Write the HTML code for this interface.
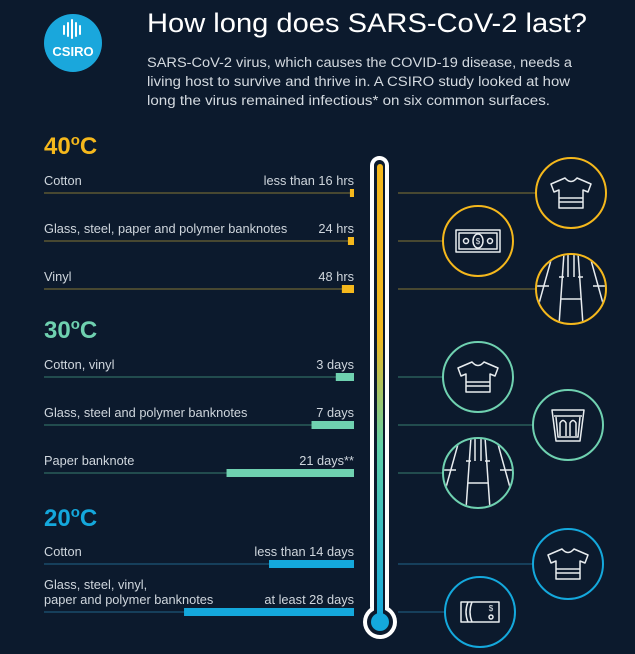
<!DOCTYPE html>
<html><head><meta charset="utf-8"><style>
html,body{margin:0;padding:0;background:#0c1a2d;}
svg{display:block;font-family:"Liberation Sans",sans-serif;}
</style></head><body>
<svg id="chart" width="635" height="654" viewBox="0 0 635 654" xmlns="http://www.w3.org/2000/svg">
<defs>
<linearGradient id="tg" x1="0" y1="0" x2="0" y2="1">
<stop offset="0" stop-color="#f5b81c"/><stop offset="0.38" stop-color="#f0b820"/><stop offset="0.62" stop-color="#5fd0a8"/><stop offset="1" stop-color="#14a8dc"/>
</linearGradient>
</defs>
<rect width="635" height="654" fill="#0c1a2d"/>
<g>
<circle cx="73" cy="43" r="29" fill="#1aa7dc"/>
<g stroke="#fff" stroke-width="2" stroke-linecap="round">
<line x1="64" y1="26" x2="64" y2="34"/><line x1="68" y1="23" x2="68" y2="36"/><line x1="72" y1="20" x2="72" y2="38"/><line x1="76" y1="23" x2="76" y2="36"/><line x1="80" y1="26" x2="80" y2="34"/>
</g>
<text x="73" y="56" font-size="13" font-weight="bold" fill="#fff" text-anchor="middle">CSIRO</text>
</g>
<text x="147" y="32" font-size="27" fill="#fff" textLength="440" lengthAdjust="spacingAndGlyphs">How long does SARS-CoV-2 last?</text>
<g font-size="14.2" fill="#d4dae0">
<text x="147" y="67" textLength="425" lengthAdjust="spacingAndGlyphs">SARS-CoV-2 virus, which causes the COVID-19 disease, needs a</text>
<text x="147" y="86" textLength="423" lengthAdjust="spacingAndGlyphs">living host to survive and thrive in. A CSIRO study looked at how</text>
<text x="147" y="105" textLength="403" lengthAdjust="spacingAndGlyphs">long the virus remained infectious* on six common surfaces.</text>
</g>
<text x="44" y="154" font-size="24" font-weight="bold" fill="#f5b81c">40<tspan font-size="15" dy="-9">o</tspan><tspan dy="9">C</tspan></text>
<text x="44" y="338" font-size="24" font-weight="bold" fill="#6fd1b0">30<tspan font-size="15" dy="-9">o</tspan><tspan dy="9">C</tspan></text>
<text x="44" y="526" font-size="24" font-weight="bold" fill="#14a8dc">20<tspan font-size="15" dy="-9">o</tspan><tspan dy="9">C</tspan></text>
<g id="rows"></g>
<g>
<rect x="370" y="156" width="19" height="460" rx="9.5" fill="#fff"/>
<circle cx="380" cy="622" r="17" fill="#fff"/>
<rect x="374" y="160" width="11" height="458" rx="5.5" fill="#0c1a2d"/>
<circle cx="380" cy="622" r="13" fill="#0c1a2d"/>
<rect x="377" y="164" width="6" height="455" rx="3" fill="url(#tg)"/>
<circle cx="380" cy="622" r="9" fill="#14a8dc"/>
</g>
<g id="icons"></g>
<script>
const labels=["Cotton","Glass, steel, paper and polymer banknotes","Vinyl","Cotton, vinyl","Glass, steel and polymer banknotes","Paper banknote","Cotton","Glass, steel, vinyl,|paper and polymer banknotes"];
const valueLabels=["less than 16 hrs","24 hrs","48 hrs","3 days","7 days","21 days**","less than 14 days","at least 28 days"];
const days=[0.67,1,2,3,7,21,14,28];
const groups=[0,0,0,1,1,1,2,2];
const rowY=[193,241,289,377,425,473,564,612];
const iconKind=["shirt","note","vinyl","shirt","glass","paper","shirt","note2"];
const iconX=[571,478,571,478,568,478,568,480];
const colors=["#f5b81c","#6fd1b0","#14a8dc"];
const lineColors=["#6b6334","#2f6a63","#1d5677"];
const NS="http://www.w3.org/2000/svg";
const x1=354, pxPerDay=6.07;
function xScale(d){return x1-d*pxPerDay;}
function mk(t,a,p){const e=document.createElementNS(NS,t);for(const k in a)e.setAttribute(k,a[k]);p.appendChild(e);return e;}
const rows=document.getElementById('rows');
const icons=document.getElementById('icons');
days.forEach((d,i)=>{
 const g=mk('g',{},rows);
 
 
 const y=rowY[i],c=colors[groups[i]];
 const ln=mk('line',{x1:44,x2:354,y1:y,y2:y,stroke:lineColors[groups[i]],'stroke-width':1.3},g);
 
 
 const xs=xScale(d);
 const b=mk('rect',{x:xs,y:y-4,width:x1-xs,height:8,fill:c},g);
 
 
 const parts=labels[i].split('|');
 parts.forEach((p,k)=>{
  const t=mk('text',{x:44,y:y-8-(parts.length-1-k)*15,'font-size':12.8,fill:'#cfd6dd'},g);
  t.textContent=p;
  
  
 });
 const v=mk('text',{x:354,y:y-8,'font-size':12.8,fill:'#cfd6dd','text-anchor':'end'},g);
 v.textContent=valueLabels[i];
 
 
 const ig=mk('g',{},icons);
 
 
 const cx=iconX[i],r=35;
 mk('line',{x1:398,x2:cx-r,y1:y,y2:y,stroke:lineColors[groups[i]],'stroke-width':1.3},ig);
 mk('circle',{cx:cx,cy:y,r:r,fill:'none',stroke:c,'stroke-width':2},ig);
 const s={fill:'none',stroke:'#e8ecef','stroke-width':1.5,'stroke-linejoin':'round'};
 const k=iconKind[i];
 if(k==='shirt'){
  mk('path',Object.assign({d:`M${cx-6} ${y-15} L${cx-20} ${y-9} L${cx-17} ${y-1} L${cx-12} ${y-3} L${cx-12} ${y+15} L${cx+12} ${y+15} L${cx+12} ${y-3} L${cx+17} ${y-1} L${cx+20} ${y-9} L${cx+6} ${y-15} Q${cx} ${y-8} ${cx-6} ${y-15} Z`},s),ig);
  mk('line',Object.assign({x1:cx-12,x2:cx+12,y1:y+5,y2:y+5},s),ig);
  mk('line',Object.assign({x1:cx-12,x2:cx+12,y1:y+9,y2:y+9},s),ig);
 }else if(k==='note'){
  mk('rect',Object.assign({x:cx-22,y:y-11,width:44,height:22},s),ig);
  mk('rect',Object.assign({x:cx-19,y:y-8,width:38,height:16},s),ig);
  mk('ellipse',Object.assign({cx:cx,cy:y,rx:5,ry:7},s),ig);
  mk('circle',Object.assign({cx:cx-12,cy:y,r:2.5},s),ig);
  mk('circle',Object.assign({cx:cx+12,cy:y,r:2.5},s),ig);
  const t=mk('text',{x:cx,y:y+3,'font-size':8,fill:'#e8ecef','text-anchor':'middle'},ig);t.textContent='$';
 }else if(k==='note2'){
  mk('rect',Object.assign({x:cx-19,y:y-10,width:38,height:20},s),ig);
  mk('path',Object.assign({d:`M${cx-12} ${y-10} q-4 10 0 20 M${cx-8} ${y-10} q-4 10 0 20`},s),ig);
  const t=mk('text',{x:cx+11,y:y-1,'font-size':8,fill:'#e8ecef','text-anchor':'middle'},ig);t.textContent='$';
  mk('circle',Object.assign({cx:cx+11,cy:y+5,r:2},s),ig);
 }else if(k==='glass'){
  mk('path',Object.assign({d:`M${cx-16} ${y-15} L${cx+16} ${y-15} L${cx+12} ${y+16} L${cx-12} ${y+16} Z`},s),ig);
  mk('path',Object.assign({d:`M${cx-14} ${y-9} L${cx+14} ${y-9} M${cx-12} ${y-8} L${cx-10} ${y+12} L${cx+10} ${y+12} L${cx+12} ${y-8} M${cx-8} ${y+11} V${y-2} q3 -5 6 0 V${y+11} M${cx+2} ${y+11} V${y-2} q3 -5 6 0 V${y+11}`},s),ig);
 }else{
  const cp=document.createElementNS(NS,'clipPath');cp.id='cp'+i;icons.appendChild(cp);
  mk('circle',{cx:cx,cy:y,r:r-1},cp);
  const pg=mk('g',{'clip-path':'url(#cp'+i+')'},ig);
  const d=`M${cx-7} ${y-36} L${cx-12} ${y+36} M${cx+7} ${y-36} L${cx+12} ${y+36} M${cx-18} ${y-36} L${cx-38} ${y+36} M${cx+18} ${y-36} L${cx+38} ${y+36} M${cx-3} ${y-36} L${cx-3} ${y-12} M${cx+3} ${y-36} L${cx+3} ${y-12} M${cx-12} ${y-12} L${cx-7} ${y-12} M${cx+7} ${y-12} L${cx+12} ${y-12} M${cx-35} ${y-3} L${cx-22} ${y-3} M${cx+22} ${y-3} L${cx+35} ${y-3} M${cx-10} ${y+10} L${cx+10} ${y+10}`;
  mk('path',Object.assign({d:d},s),pg);
 }
});
</script>
</svg>
</body></html>
